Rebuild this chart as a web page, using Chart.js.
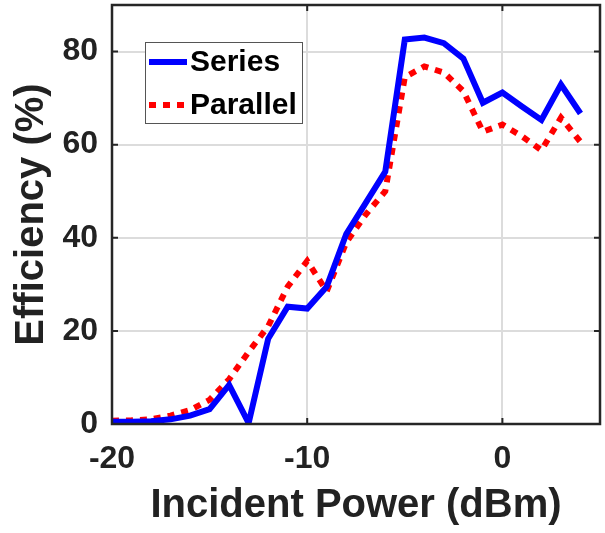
<!DOCTYPE html>
<html>
<head>
<meta charset="utf-8">
<script src="https://cdn.jsdelivr.net/npm/chart.js@4/dist/chart.umd.min.js"></script>
<style>
html,body{margin:0;padding:0;background:#fff}
#wrap{width:605px;height:533px}
</style>
</head>
<body>
<div id="wrap"><canvas id="c" width="605" height="533"></canvas></div>
<script>
// ===== data =====
const powerDbm=[-20,-19,-18,-17,-16,-15,-14,-13,-12,-11,-10,-9,-8,-7,-6,-5,-4,-3,-2,-1,0,1,2,3,4];
const seriesEff=[0.5,0.5,0.6,1.0,1.8,3.2,8.4,0.2,18.3,25.2,24.8,29.5,40.8,47.5,54.2,82.6,83.0,81.8,78.5,69.0,71.2,68.2,65.3,72.9,66.7];
const parallelEff=[0.7,0.8,1.0,1.8,3.0,5.2,9.6,15.5,21.0,29.5,35.0,28.5,39.0,45.0,50.0,74.5,76.8,75.5,71.5,62.8,64.3,61.8,58.8,65.8,60.6];
const seriesNames=["Series","Parallel"];
const xTickVals=[-20,-10,0];
const yTickVals=[0,20,40,60,80];

const FONT="'Liberation Sans', Arial, Helvetica, sans-serif";
const INK="#222222";
const pts=(ys)=>powerDbm.map((x,i)=>({x:x,y:ys[i]}));

// frame + inward tick marks (matlab style box)
const frame={id:"frame",afterDraw(chart){
  const {ctx,chartArea:a,scales:{x,y}}=chart;
  ctx.save();
  ctx.strokeStyle="#262626"; ctx.lineWidth=2.5;
  ctx.strokeRect(a.left,a.top,a.right-a.left,a.bottom-a.top);
  ctx.lineWidth=2; ctx.beginPath();
  x.ticks.forEach(t=>{const p=x.getPixelForValue(t.value);
    ctx.moveTo(p,a.bottom); ctx.lineTo(p,a.bottom-6); ctx.moveTo(p,a.top); ctx.lineTo(p,a.top+6);});
  y.ticks.forEach(t=>{const p=y.getPixelForValue(t.value);
    ctx.moveTo(a.left,p); ctx.lineTo(a.left+6,p); ctx.moveTo(a.right,p); ctx.lineTo(a.right-6,p);});
  ctx.stroke(); ctx.restore();
}};

// legend box inside the axes, top-left
const boxLegend={id:"boxLegend",afterDraw(chart){
  const ctx=chart.ctx, L=145, T=42, W=157, H=81;
  ctx.save();
  ctx.fillStyle="#fff"; ctx.fillRect(L,T,W,H);
  ctx.strokeStyle="#555"; ctx.lineWidth=1; ctx.strokeRect(L+0.5,T+0.5,W,H);
  chart.data.datasets.forEach((ds,i)=>{
    const yy=T+20+i*43;
    ctx.strokeStyle=ds.borderColor; ctx.lineWidth=ds.borderWidth; ctx.lineCap="butt";
    ctx.setLineDash(ds.borderDash||[]);
    ctx.beginPath(); ctx.moveTo(L+4,yy); ctx.lineTo(L+42,yy); ctx.stroke();
    ctx.setLineDash([]);
    ctx.fillStyle="#000"; ctx.font="bold 30px "+FONT; ctx.textBaseline="middle"; ctx.textAlign="left";
    ctx.fillText(ds.label,L+45,yy+1);
  });
  ctx.restore();
}};

new Chart(document.getElementById("c"),{
  type:"line",
  data:{datasets:[
    {label:seriesNames[0],data:pts(seriesEff),borderColor:"#0000ff",borderWidth:6,borderJoinStyle:"miter",pointRadius:0,tension:0},
    {label:seriesNames[1],data:pts(parallelEff),borderColor:"#ff0000",borderWidth:6,borderDash:[7,7],borderCapStyle:"butt",pointRadius:0,tension:0}
  ]},
  options:{
    responsive:false,animation:false,devicePixelRatio:1,
    layout:{padding:{top:5,right:5,left:0,bottom:0},autoPadding:false},
    plugins:{legend:{display:false},tooltip:{enabled:false}},
    scales:{
      x:{type:"linear",min:-20,max:5,
        afterBuildTicks:s=>{s.ticks=xTickVals.map(v=>({value:v}));},
        afterFit:s=>{s.height=109; s.paddingLeft=0; s.paddingRight=0;},
        grid:{color:"#dcdcdc",lineWidth:2,drawTicks:false},border:{display:false},
        ticks:{padding:16,color:INK,maxRotation:0,font:{family:FONT,weight:"bold",size:32}},
        title:{display:true,text:"Incident Power (dBm)",color:INK,font:{family:FONT,weight:"bold",size:40},padding:{top:0,bottom:3}}},
      y:{type:"linear",min:0,max:90,
        afterBuildTicks:s=>{s.ticks=yTickVals.map(v=>({value:v}));},
        afterFit:s=>{s.width=112; s.paddingTop=0; s.paddingBottom=0;},
        grid:{color:"#dcdcdc",lineWidth:2,drawTicks:false},border:{display:false},
        ticks:{padding:14,color:INK,font:{family:FONT,weight:"bold",size:32}},
        title:{display:true,text:"Efficiency (%)",color:INK,font:{family:FONT,weight:"bold",size:40},padding:{top:8,bottom:0}}}
    }
  },
  plugins:[frame,boxLegend]
});
</script>
</body>
</html>
